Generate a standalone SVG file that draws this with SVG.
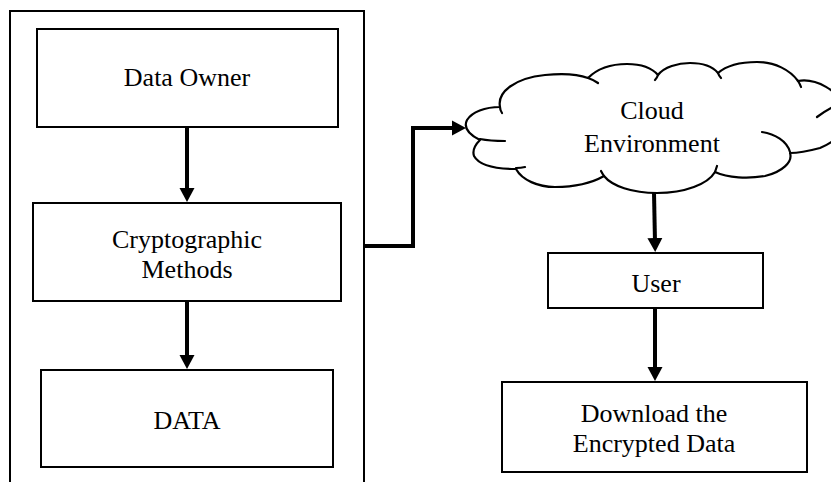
<svg xmlns="http://www.w3.org/2000/svg" width="831" height="482" viewBox="0 0 831 482">
<style>
.box{fill:#fff;stroke:#000;stroke-width:2}
.frame{fill:none;stroke:#000;stroke-width:2}
.cloud{fill:#fff;stroke:#000;stroke-width:2.2;stroke-linejoin:round}
.tail{fill:none;stroke:#000;stroke-width:2.2;stroke-linecap:round}
.conn{fill:none;stroke:#000;stroke-width:4}
text{font-family:"Liberation Serif","Times New Roman",serif;font-size:26px;fill:#000;text-anchor:middle}
</style>
<defs>
<marker id="ah" markerUnits="userSpaceOnUse" markerWidth="15" markerHeight="16" refX="4" refY="8" orient="auto">
<path d="M0,0.5 L14,8 L0,15.5 z" fill="#000"/>
</marker>
</defs>
<g id="frame"><path class="frame" d="M10,490 V11 H364 V490"/></g>
<g id="data-owner"><rect class="box" x="37" y="29" width="301" height="98"/><text x="187" y="86">Data Owner</text></g>
<g id="crypto"><rect class="box" x="33" y="203" width="308" height="98"/><text x="187" y="248">Cryptographic</text><text x="187" y="278">Methods</text></g>
<g id="data"><rect class="box" x="41" y="370" width="292" height="97"/><text x="187" y="429">DATA</text></g>
<g id="cloud">
<path class="cloud" d="M480,140 C470,135 463,128 467,120 C472,112 485,107 500,107 C497,92 515,78 545,75 C565,73 580,75 588,78 C598,68 613,64 627,64 C642,64 652,68 658,75 C664,67 678,63 690,63 C703,63 713,67 718,73 C726,66 740,62 757,62 C775,62 790,70 798,81 C815,78 840,90 845,110 C850,125 840,140 820,148 C805,152 795,153 790,153 C793,162 782,172 765,176 C748,179 728,178 715,172 C708,184 685,193 657,193 C632,193 612,186 604,176 C590,184 572,187 555,187 C538,187 522,180 516,169 C500,169 480,167 474,156 C472,150 475,145 480,140 Z"/>
<path class="tail" d="M480,139 C490,141 498,141 505,141 M516,168 Q521,168 525,167 M604,176 Q602,173 601,171 M715,172 Q716,169 717,166 M762,132 C775,134 787,141 790,152 M817,117 Q825,111 835,106 M798,81 Q800,84 801,87 M718,73 Q719,76 721,78 M658,75 Q657,78 655,80 M588,78 Q594,80 598,83 M500,107 Q500,110 502,113"/>
<text x="652" y="119">Cloud</text><text x="652" y="152">Environment</text>
</g>
<g id="user"><rect class="box" x="548" y="253" width="215" height="55"/><text x="656" y="292">User</text></g>
<g id="download"><rect class="box" x="502" y="382" width="305" height="90"/><text x="654" y="422">Download the</text><text x="654" y="452">Encrypted Data</text></g>
<g id="connectors">
<path class="conn" d="M187,127 V192" marker-end="url(#ah)"/>
<path class="conn" d="M187,301 V359" marker-end="url(#ah)"/>
<path class="conn" d="M364,246 H413 V128 H456" marker-end="url(#ah)"/>
<path class="conn" d="M654,193 L655,242" marker-end="url(#ah)"/>
<path class="conn" d="M655,308 V371" marker-end="url(#ah)"/>
</g>
</svg>
